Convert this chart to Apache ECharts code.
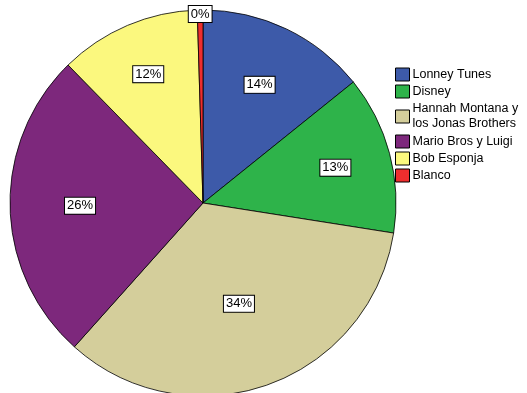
<!DOCTYPE html>
<html><head><meta charset="utf-8">
<script src="https://cdn.jsdelivr.net/npm/echarts@6/dist/echarts.min.js"></script>
<style>html,body{margin:0;padding:0;background:#fff}#c{width:527px;height:393px}</style>
</head><body><div id="c"></div>
<script>
const categories = ['Lonney Tunes', 'Disney', 'Hannah Montana y los Jonas Brothers', 'Mario Bros y Luigi', 'Bob Esponja', 'Blanco'];
const counts = [30, 28, 72, 55, 25, 1];
const colors = ['#3D5AA9', '#2EB34A', '#D4CE9B', '#7D287C', '#FBF87E', '#EE2E2E'];
const legendNames = { 'Hannah Montana y los Jonas Brothers': '{m|Hannah Montana y\nlos Jonas Brothers}' };
// distance of each percentage label from the pie centre (style)
const labelRadius = [128, 134, 104, 120, 137, 186];

const chart = echarts.init(document.getElementById('c'), null, { renderer: 'canvas' });
const font = '"Liberation Sans", Arial, sans-serif';
const R = 193;
const centre = [203, 203];
const labelStyle = {
  show: true, position: 'inside', color: '#000', fontSize: 13, fontFamily: font,
  backgroundColor: '#fff', borderColor: '#000', borderWidth: 1, padding: [2, 2, 1, 2],
  formatter: p => Math.round(p.percent) + '%'
};
const series = [{
  type: 'pie', center: centre, radius: R, startAngle: 90, clockwise: true,
  label: { show: false }, labelLine: { show: false }, silent: true,
  itemStyle: { borderColor: '#000', borderWidth: 0.8 },
  data: categories.map((n, i) => ({ name: n, value: counts[i], itemStyle: { color: colors[i] } }))
}];
labelRadius.forEach((lr, k) => {
  series.push({
    type: 'pie', center: centre, radius: [2 * lr - R, R], startAngle: 90, clockwise: true,
    silent: true, labelLine: { show: false }, label: labelStyle,
    itemStyle: { color: 'rgba(0,0,0,0)', borderWidth: 0 },
    data: categories.map((n, i) => ({ name: n + '#' + k, value: counts[i], label: { show: i === k } }))
  });
});
chart.setOption({
  animation: false,
  legend: {
    orient: 'vertical', left: 395, top: 67.5, padding: 0,
    itemWidth: 14, itemHeight: 13, itemGap: 3,
    icon: 'rect',
    selectedMode: false,
    itemStyle: { borderColor: '#000', borderWidth: 1 },
    textStyle: {
      fontSize: 12.5, fontFamily: font, color: '#000', lineHeight: 13, padding: [0, 0, 0, -2],
      rich: { m: { fontSize: 12.5, fontFamily: font, color: '#000', lineHeight: 15 } }
    },
    formatter: n => legendNames[n] || n,
    data: categories
  },
  series: series
});
</script></body></html>
